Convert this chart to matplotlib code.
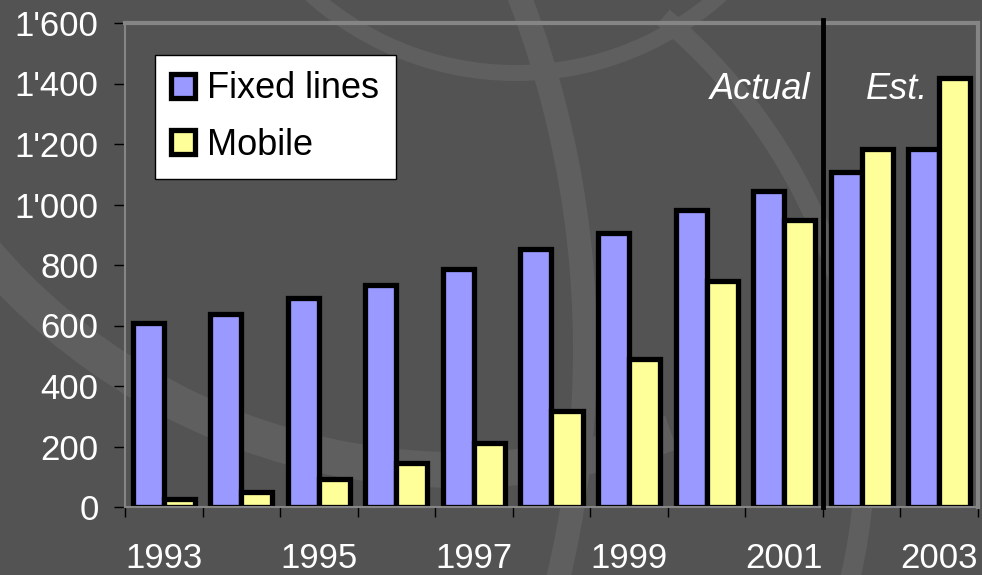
import numpy as np
import matplotlib
matplotlib.use("Agg")
import matplotlib.pyplot as plt
from matplotlib.patches import Arc
from matplotlib.ticker import FuncFormatter

plt.rcParams["font.family"] = ["Liberation Sans", "DejaVu Sans"]

years = ["1993", "1994", "1995", "1996", "1997", "1998", "1999", "2000", "2001", "2002", "2003"]
fixed_lines = [608, 638, 692, 734, 788, 852, 907, 982, 1045, 1107, 1183]
mobile = [28, 51, 92, 144, 210, 318, 489, 747, 949, 1183, 1417]
series_names = ["Fixed lines", "Mobile"]

BG = "#535353"
BAND = "#5f5f5f"
FRAME = "#858585"

fig = plt.figure(figsize=(9.82, 5.75), dpi=100, facecolor=BG)

# faint decorative arcs behind the chart (pixel coords, y down)
bg = fig.add_axes([0, 0, 1, 1], zorder=0)
bg.set_xlim(0, 982)
bg.set_ylim(575, 0)
bg.axis("off")
for cx, cy, r, w, t1, t2 in [(516, -234, 307, 16, 0, 180),
                             (458, -153, 623, 36, 70, 150),
                             (-400, 350, 985, 24, -30, 20),
                             (300, 450, 565, 20, -50, 15)]:
    bg.add_patch(Arc((cx, cy), 2 * r, 2 * r, theta1=t1, theta2=t2, ec=BAND, lw=w * 0.72))

ax = fig.add_axes([125 / 982, 1 - 507 / 575, 853 / 982, 484 / 575], zorder=1)
ax.set_facecolor("none")

x = np.arange(len(years))
w = 0.4
ax.bar(x - w / 2, fixed_lines, w, color="#9999ff", edgecolor="black", lw=3.8,
       label=series_names[0], zorder=2)
ax.bar(x + w / 2, mobile, w, color="#ffff99", edgecolor="black", lw=3.8,
       label=series_names[1], zorder=2)

ax.set_xlim(-0.5, len(years) - 0.5)
ax.set_ylim(0, 1600)
ax.set_yticks(np.arange(0, 1601, 200))
ax.yaxis.set_major_formatter(FuncFormatter(lambda v, _: f"{v:,.0f}".replace(",", "'")))

ax.set_xticks(x[::2])
ax.set_xticklabels(years[::2])
ax.set_xticks(np.arange(-0.5, len(years), 1), minor=True)
ax.tick_params(axis="x", which="major", length=0, pad=25, labelsize=25, labelcolor="white")
ax.tick_params(axis="x", which="minor", length=7, width=1, color="black", direction="out")
ax.tick_params(axis="y", length=8, width=1, color="black", pad=11, labelsize=25, labelcolor="white")

for side in ["top", "right"]:
    ax.spines[side].set_color(FRAME)
    ax.spines[side].set_linewidth(3)
for side in ["left", "bottom"]:
    ax.spines[side].set_color(FRAME)
    ax.spines[side].set_linewidth(1.5)

# actual / estimate divider
ax.axvline(8.5, ymin=0, ymax=1.006, color="black", lw=3.5, clip_on=False, zorder=3)
ax.text(8.34, 1380, "Actual", ha="right", va="center", style="italic", color="white", fontsize=26)
ax.text(9.05, 1380, "Est.", ha="left", va="center", style="italic", color="white", fontsize=26)

leg = ax.legend(loc="upper left", bbox_to_anchor=(155 / 982, 1 - 55 / 575),
                bbox_transform=fig.transFigure, fontsize=26, fancybox=False,
                edgecolor="black", facecolor="white", framealpha=1, borderaxespad=0,
                handlelength=0.65, handleheight=0.65, handletextpad=0.35,
                labelspacing=0.6, borderpad=0.45)
leg.get_frame().set_linewidth(1)

fig.savefig("out.png", dpi=100, facecolor=BG)
